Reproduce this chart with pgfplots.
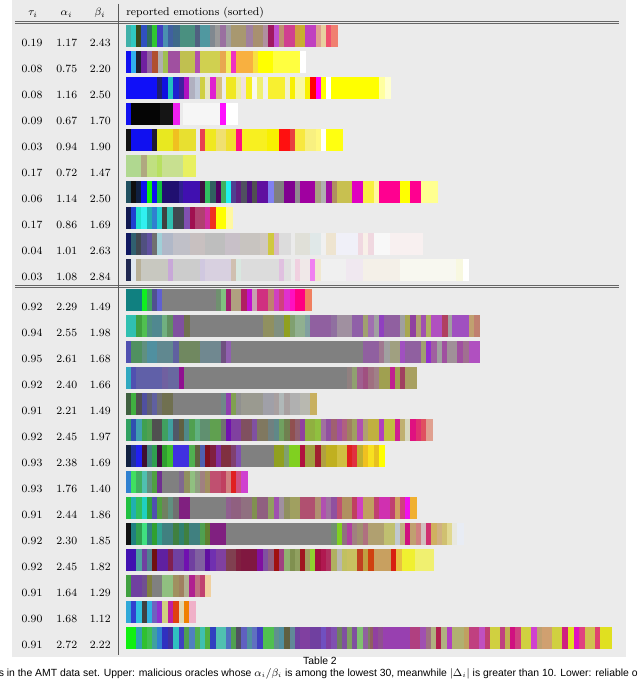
\documentclass[border=0pt]{standalone}
\usepackage{fontspec}
\usepackage{pgfplots}
\usepackage{pgfplotstable}
\pgfplotsset{compat=1.18}
\newfontfamily\capfont{Liberation Sans}
\pgfdeclareplotmark{nothing}{}

% r = row, a = start pixel, b = end pixel, c = colour
\pgfplotstableread{
r a b c
0 126 131.7 40B0A8
0 131.7 136.7 30C8C0
0 136.7 141.7 3A4A1A
0 141.7 147.3 3050C0
0 147.3 152.7 2E6E5E
0 152.7 157.7 30C830
0 157.7 163.3 4040C0
0 163.3 168.3 4A90B0
0 168.3 173.3 4060A0
0 173.3 180 3E6A8A
0 180 195 4A9080
0 195 200 506080
0 200 210 5098A0
0 210 215 808890
0 215 220 9A9A9A
0 220 226 9A70A0
0 226 231.7 A0A0A0
0 231.7 246.7 A89870
0 246.7 253.3 A080A0
0 253.3 263.3 A89070
0 263.3 268.3 B090A0
0 268.3 274 A01860
0 274 279.3 C050D0
0 279.3 284.3 C09070
0 284.3 295 D04090
0 295 300 D0A040
0 300 305 C8B030
0 305 316 C040C0
0 316 321 E0A090
0 321 326.7 E8D0A0
0 326.7 331.7 F05070
0 331.7 336.7 F08070
1 126 131.7 1010F0
1 131.7 136.7 30B0F0
1 136.7 141.7 202030
1 141.7 147.3 7020A0
1 147.3 152.7 9060A0
1 152.7 158.3 B05030
1 158.3 163.3 B0B0B0
1 163.3 168.3 A0C050
1 168.3 180 A050A0
1 180 195 C0C050
1 195 200 B050B0
1 200 220 D0D050
1 220 226.7 E8A850
1 226.7 231.7 F0F060
1 231.7 236.7 F030C0
1 236.7 253.3 F8B040
1 253.3 258.3 F8E040
1 258.3 273.3 FFFF00
1 273.3 300 FFFF40
1 300 305 FFFFFF
2 126 157.7 1010F8
2 157.7 162.7 202070
2 162.7 168.3 1010E0
2 168.3 173.3 20C0C0
2 173.3 179.3 2020D0
2 179.3 184.3 4020A0
2 184.3 189.3 B010C0
2 189.3 195 B0B0C0
2 195 200 C0C8D8
2 200 205 D0D040
2 205 210.7 E8E8C0
2 210.7 216 E020D0
2 216 221 D8C080
2 226.7 236.7 F0E820
2 236.7 241.7 F0F0A0
2 241.7 246.7 F0E0E0
2 246.7 252.7 F8F020
2 252.7 257.7 F8F8F0
2 257.7 263.3 F0F070
2 263.3 268.3 F0F0F0
2 268.3 285 F8F030
2 285 290 F0F0D0
2 290 295 F8F000
2 295 305 F8F8A0
2 305 310.7 F8F000
2 310.7 316 FF0000
2 316 321.7 FF00FF
2 321.7 326.7 FFFF00
2 326.7 331.7 FFFFFF
2 331.7 379.3 FFFF00
2 379.3 385 FFFFA0
2 385 390 FFFFD0
3 126 131.7 1010F0
3 131.7 160 050505
3 160 173.3 151515
3 173.3 179.3 F020F0
3 183.3 220 F6F6F6
3 220 226.7 FF10FF
3 226.7 236.7 FFFFFF
4 126 131.7 101010
4 131.7 152.7 1010F0
4 152.7 157.7 201830
4 157.7 173.3 E8E820
4 173.3 179.3 F0C020
4 179.3 195 E8E030
4 200 205 E84050
4 205 216.7 F0E820
4 216.7 226.7 F0E070
4 226.7 236.7 F0E030
4 236.7 242.3 FF1080
4 242.3 267.7 F8F020
4 267.7 279 F8F000
4 279 290 FF1010
4 290 295 E84040
4 295 305 F8E840
4 305 316.7 F8F080
4 316.7 321.7 FFF880
4 321.7 326.7 FFFFFF
4 326.7 341.7 FFFF10
5 126 141.7 B0D890
5 141.7 147.3 B0A880
5 147.3 157.3 C0E080
5 157.3 162.7 B8E060
5 162.7 183.3 C8E090
5 183.3 195 E8F060
6 126 131.7 205060
6 131.7 136.7 101010
6 136.7 141.7 102040
6 141.7 147.3 1010F0
6 147.3 152.3 10F010
6 152.3 157.7 1010F0
6 157.7 162.7 10C040
6 162.7 179.3 201070
6 179.3 183.3 302090
6 183.3 200 4010B0
6 200 205 401040
6 205 210.7 30C060
6 210.7 216 306060
6 216 221 500060
6 221 226.7 40B060
6 226.7 231.7 20F0F0
6 231.7 236.7 504090
6 236.7 241.7 602080
6 241.7 247.7 505060
6 247.7 252.7 501080
6 252.7 257.7 505050
6 257.7 268.3 6010A0
6 268.3 274 8080F0
6 274 284.3 808080
6 284.3 295 800090
6 295 300 908890
6 300 315.7 A000A0
6 315.7 321.7 A8A080
6 321.7 326.7 B0B0B0
6 326.7 332.3 A010A0
6 332.3 337.3 B09060
6 337.3 352.7 C8C050
6 352.7 363.3 E000C0
6 363.3 374 F8F040
6 374 379.3 FFF8A0
6 379.3 400 FF0090
6 400 410.7 FFFF00
6 410.7 421.7 FF0090
6 421.7 436.7 FFFF90
7 126 131.7 101850
7 131.7 136.7 2040D0
7 136.7 141.7 20E0D0
7 141.7 147.3 30F0F0
7 147.3 152.3 20B0B0
7 152.3 157.7 3080D0
7 157.7 162.7 20D0D0
7 162.7 167.7 404040
7 167.7 173.3 30C0B0
7 173.3 184.3 404850
7 184.3 190 8050B0
7 190 195 A01050
7 195 205 B04070
7 205 210.7 D030A0
7 210.7 216 F03020
7 216 226.7 FFFF00
7 226.7 231.7 FFF8A0
8 126 131.7 101860
8 131.7 136.7 306070
8 136.7 141.7 404850
8 141.7 147.3 505080
8 147.3 152.3 6050A0
8 152.3 157.7 707070
8 157.7 162.7 A0D0D8
8 162.7 173.3 B0B8C8
8 173.3 190 C0C0C8
8 190 205 C8C0C0
8 205 225 BEBEBE
8 225 240 C8C0C8
8 240 260 C8C4C0
8 260 268.3 D0C8C0
8 268.3 274 D0C840
8 274 279 D8B8C8
8 279 290 DCDCDC
8 295 310 E0E0D8
8 310 321.7 E0E8E8
8 321.7 326.7 F0F0F0
8 326.7 336.7 EEE4D0
8 336.7 358.3 F0F0F8
8 358.3 363.3 F0D8E0
8 363.3 368.3 F8F0E8
8 368.3 374 F0D8E0
8 374 390 F8F8F8
8 390 421.7 F8F0F0
9 126 131.7 202850
9 131.7 136.7 E0E8F0
9 136.7 141.7 B8B098
9 141.7 168.3 C8C8C0
9 168.3 173.3 C8A8D8
9 173.3 200 CCCCCC
9 200 205 D0C8E0
9 205 231.7 D8D0E0
9 231.7 236.7 D0C0B0
9 236.7 241.7 D8E8E0
9 241.7 279 DCDCDC
9 279 284.3 E0C0E0
9 284.3 290 E0E0E0
9 295 300 F0D0E0
9 300 310 F0E8E8
9 310 315.7 F080F0
9 315.7 321.7 F0E8D0
9 321.7 346.7 F0F0F0
9 346.7 363.3 F0E8F0
9 363.3 400 F4F0E8
9 400 456.7 F8F8F0
9 456.7 463.3 F8F8E0
9 463.3 468.3 FFFFFF
}\uppertab

\pgfplotstableread{
r a b c
0 126 142.7 108080
0 142.7 147.3 10F020
0 147.3 152.7 40A060
0 152.7 157.7 505090
0 157.7 162.7 6060D0
0 162.7 216 808080
0 216 221 709070
0 221 226.7 80C080
0 226.7 231.7 A02070
0 231.7 241.7 B0A080
0 241.7 247.3 B02060
0 247.3 252.7 C010D0
0 252.7 257.7 C8A0B0
0 257.7 268.3 D03080
0 268.3 274 C08070
0 274 279 D040C0
0 279 284.3 D04080
0 284.3 290 E030D0
0 290 295 FF10C0
0 295 305 FF0080
0 305 310.7 F08060
1 126 136.7 30C0B0
1 136.7 142.3 40A040
1 142.3 147.3 50C050
1 147.3 152.3 509080
1 152.3 162.7 508890
1 162.7 167.7 70B080
1 167.7 173.3 609060
1 173.3 184.3 8050A0
1 184.3 190 707050
1 190 263.3 808080
1 263.3 274 909060
1 274 284.3 809080
1 284.3 290 90A020
1 290 295 80A070
1 295 305 90B090
1 305 310 80A0A0
1 310 331.7 9060A0
1 331.7 337.3 9070A0
1 337.3 352.7 A090A0
1 352.7 363.3 9060A8
1 363.3 368.3 A0A070
1 368.3 374 A070B0
1 374 379.3 A0A0A0
1 379.3 384.3 9040C0
1 384.3 400 9060A0
1 400 405 A0A0A0
1 405 410.7 A8A850
1 410.7 416 9040A0
1 416 421 B0A070
1 421 426.7 A050B0
1 426.7 431.7 B0B060
1 431.7 442.7 B050C0
1 442.7 448.3 B04060
1 448.3 452.7 A0A0A0
1 452.7 469.3 A050C0
1 469.3 474.3 C0A070
1 474.3 479.3 C08070
2 126 131.7 5050B0
2 131.7 142.3 509060
2 142.3 147.3 609080
2 147.3 157.7 5090A0
2 157.7 173.3 608890
2 173.3 179.3 6060A0
2 179.3 200 708860
2 200 221 708890
2 221 226.7 705080
2 226.7 231.7 9060B0
2 231.7 363.3 808080
2 363.3 379.3 9060A0
2 379.3 384.3 A07890
2 384.3 390 A0A0A0
2 390 400 A0A080
2 400 405 A050C0
2 405 421.7 9060A0
2 421.7 426.7 A0A070
2 426.7 431.7 9030D0
2 431.7 437.3 A060A0
2 437.3 442.7 A0A0A0
2 442.7 447.7 A050A0
2 447.7 457.7 A09098
2 457.7 463.3 A050A0
2 463.3 469.3 A07090
2 469.3 479.3 B050C0
3 126 131.7 30A8C0
3 131.7 136.7 5050B0
3 136.7 162.7 6060A8
3 162.7 168.3 7060A0
3 168.3 179.3 6868A0
3 179.3 184.3 901090
3 184.3 347.7 808080
3 347.7 352.7 908080
3 352.7 357.7 90A070
3 357.7 363.3 A06090
3 363.3 368.3 A05080
3 368.3 374 A07080
3 374 379.3 A08088
3 379.3 390 A0A050
3 390 395 C02090
3 395 400 A0A050
3 400 405 A04060
3 405 416 A8A060
4 126 131.7 406040
4 131.7 136.7 40B040
4 136.7 142.3 505050
4 142.3 147.3 5050A0
4 147.3 152.3 606070
4 152.3 157.7 6060A0
4 157.7 162.7 707070
4 162.7 173.3 707050
4 173.3 221 808080
4 221 226.7 708888
4 226.7 231.7 9040B0
4 231.7 236.7 80A050
4 236.7 241.7 909090
4 241.7 263.3 9A9A90
4 263.3 274 A0A0A8
4 274 279 A8A0A0
4 279 284.3 B0B8B8
4 284.3 290 A8A0A0
4 290 300 B0B0B0
4 300 310 B8B8B0
4 310 315.7 C8B060
5 126 131.7 30A060
5 131.7 136.7 3050B0
5 136.7 142.3 40A0B0
5 142.3 147.3 40A050
5 147.3 152.3 50A050
5 152.3 162.7 505050
5 162.7 168.3 40A060
5 168.3 173.3 40A0A0
5 173.3 179.3 505868
5 179.3 184.3 606040
5 184.3 189.3 508888
5 189.3 195 50A050
5 195 200 60B080
5 200 210.7 609070
5 210.7 221 60A050
5 221 226.7 707070
5 226.7 231.7 7010B0
5 231.7 241.7 8040A0
5 241.7 252.7 805060
5 252.7 257.7 8050A0
5 257.7 268.3 807860
5 268.3 274 708080
5 274 279 608888
5 279 284.3 70A060
5 284.3 290 708050
5 290 295 905050
5 295 300 906070
5 300 305 9040A0
5 305 315.7 90B040
5 315.7 321 90C040
5 321 326.7 A070A0
5 326.7 331.7 9050A0
5 331.7 337.3 A06070
5 337.3 342.3 A050A0
5 342.3 347.7 B06080
5 347.7 352.7 A08060
5 352.7 357.7 A0A060
5 357.7 363.3 B050B0
5 363.3 368.3 B0A070
5 368.3 379.3 C0B040
5 379.3 384.3 B040C0
5 384.3 395 C0C040
5 395 400 D02090
5 400 405 C0B070
5 405 410.7 D8D8C0
5 410.7 416 E01080
5 416 421 E03070
5 421 426.7 E05060
5 426.7 431.7 E0A090
6 126 131.7 102040
6 131.7 136.7 2030A0
6 136.7 142.3 2020F0
6 142.3 147.3 401030
6 147.3 152.3 408080
6 152.3 157.7 30A050
6 157.7 162.7 401040
6 162.7 167.7 30A030
6 167.7 173.3 40C030
6 173.3 189.3 4030E0
6 189.3 195 50B050
6 195 200 606040
6 200 205 5060B0
6 205 210.7 801020
6 210.7 216 802040
6 216 221 8030A0
6 221 231.7 803040
6 231.7 236.7 804070
6 236.7 241.7 8050B0
6 241.7 274 808080
6 274 284.3 90A020
6 284.3 289.3 80A070
6 289.3 300 80D020
6 300 305 B01040
6 305 315.7 A0A040
6 315.7 321 A02030
6 321 326.7 B0A040
6 326.7 337.3 C0B020
6 337.3 347.7 D0C040
6 347.7 352.7 E02020
6 352.7 357.7 E03040
6 357.7 363.3 C0B030
6 363.3 368.3 F0C020
6 368.3 374 F8E020
6 374 379.3 E8C020
6 379.3 384.3 FFFF00
7 126 131.7 3080D0
7 131.7 136.7 40E060
7 136.7 142.3 40B060
7 142.3 147.3 50C0B0
7 147.3 152.3 609080
7 152.3 157.7 50A040
7 157.7 162.7 703090
7 162.7 179.3 808080
7 179.3 184.3 806890
7 184.3 190 909060
7 190 195 90C080
7 195 200 90A080
7 200 205 A08080
7 205 210 A09060
7 210 221 C05070
7 221 226.7 C04060
7 226.7 231.7 D08080
7 231.7 236.7 E02020
7 236.7 241.7 D05080
7 241.7 247.3 D040D0
8 126 131.7 20C040
8 131.7 136.7 20B0B0
8 136.7 142.3 30C060
8 142.3 147.3 20D0C0
8 147.3 152.3 30A040
8 152.3 157.7 5050B0
8 157.7 162.7 50A040
8 162.7 168.3 708060
8 168.3 173.3 609080
8 173.3 179.3 707070
8 179.3 190 802080
8 190 226.7 808080
8 226.7 231.7 906090
8 231.7 241.7 906080
8 241.7 252.7 907080
8 252.7 257.7 809050
8 257.7 268.3 906080
8 268.3 274 90A060
8 274 279 A050B0
8 279 284.3 A090A0
8 284.3 290 909060
8 290 300 A0A060
8 300 315.7 B05070
8 315.7 321 B09070
8 321 326.7 B050B0
8 326.7 331.7 A070A0
8 331.7 337.3 9050A0
8 337.3 342.3 C05070
8 342.3 352.7 B09060
8 352.7 357.7 C04060
8 357.7 363.3 D040C0
8 363.3 374 C0A060
8 374 379.3 C04070
8 379.3 390 D030B0
8 390 395 C04070
8 395 400 D0A060
8 400 405 D04080
8 405 410.7 F010F0
8 410.7 416 F0B030
9 126 131.7 101010
9 131.7 136.7 208080
9 136.7 142.3 30A050
9 142.3 147.3 40E080
9 147.3 152.3 308080
9 152.3 157.7 30A030
9 157.7 162.7 30A090
9 162.7 173.3 408080
9 173.3 179.3 408040
9 179.3 184.3 308070
9 184.3 189.3 408040
9 189.3 200 408080
9 200 205 50A050
9 205 210.7 608030
9 210.7 226.7 802080
9 226.7 331.7 808080
9 331.7 337.3 709070
9 337.3 342.3 80D020
9 342.3 347.7 907080
9 347.7 352.7 B040A0
9 352.7 357.7 A08080
9 357.7 363.3 A09070
9 363.3 368.3 B07080
9 368.3 384.3 B0A070
9 384.3 395 C0C070
9 395 400 C0C8D0
9 400 405 C0B080
9 405 410.7 D01080
9 410.7 416 C0A070
9 416 421 D08080
9 421 426.7 D0C0C0
9 426.7 431.7 D03070
9 431.7 437.3 D0B060
9 437.3 442.7 D0B080
9 442.7 447.7 D0C070
9 447.7 452.7 E0D890
9 452.7 457.7 E8E8E0
9 457.7 463.3 E8ECF4
10 126 136.7 4010B0
10 136.7 142.3 50A0A0
10 142.3 147.3 7040A0
10 147.3 152.3 508090
10 152.3 157.7 701010
10 157.7 168.3 6020A0
10 168.3 173.3 802050
10 173.3 184.3 7040A0
10 184.3 189.3 7010B0
10 189.3 195 7040A0
10 195 205 8060A0
10 205 210.7 6010A0
10 210.7 216 7030B0
10 216 226.7 8040A0
10 226.7 236.7 804050
10 236.7 241.7 802040
10 241.7 257.7 801840
10 257.7 263.3 8010A0
10 263.3 268.3 8050A0
10 268.3 274 906080
10 274 279 A01010
10 279 284.3 A04080
10 284.3 290 90B070
10 290 295 809050
10 295 300 90A060
10 300 305 A01820
10 305 310 A0A060
10 310 315.7 90D030
10 315.7 321 A01040
10 321 326.7 B01850
10 326.7 331.7 B03060
10 331.7 337.3 B0B060
10 337.3 342.3 B8B8B0
10 342.3 347.7 C0C060
10 347.7 357.7 C8C060
10 357.7 363.3 C04020
10 363.3 368.3 C0A040
10 368.3 374 D04010
10 374 391 C8A060
10 391 396.7 D82010
10 396.7 402 E8C040
10 402 415 F0F030
10 415 433 F0F070
11 126 131.7 40A040
11 131.7 142.3 7040A0
11 142.3 147.3 705090
11 147.3 152.3 808040
11 152.3 162.7 808080
11 162.7 173.3 90C080
11 173.3 179.3 A09060
11 179.3 184.3 A08060
11 184.3 189.3 B0B090
11 189.3 195 B02090
11 195 200 C07080
11 200 205 C04070
11 205 210 F0D0A0
12 126 131.7 30A8D8
12 131.7 136.7 3040D0
12 136.7 142.3 30C0E0
12 142.3 147.3 404040
12 147.3 152.3 30B0E0
12 152.3 157.7 7060C0
12 157.7 162.7 9030D0
12 162.7 168.3 D0D080
12 168.3 173.3 C020A0
12 173.3 179.3 E04010
12 179.3 184.3 E0D8B0
12 184.3 189.3 F08000
12 189.3 195 F0B0C8
13 126 136.7 10F010
13 136.7 142.3 30A0B0
13 142.3 147.3 30C030
13 147.3 152.3 40C050
13 152.3 157.7 40A0A0
13 157.7 162.7 3080D0
13 162.7 168.3 3030C0
13 168.3 173.3 4030A0
13 173.3 179.3 30C0C0
13 179.3 184.3 4040C0
13 184.3 189.3 50A050
13 189.3 195 5080C0
13 195 200 50B050
13 200 205 40C0B0
13 205 210.7 50B040
13 210.7 216 3040C0
13 216 226.7 50C0B0
13 226.7 231.7 5070C0
13 231.7 236.7 50A050
13 236.7 241.7 505060
13 241.7 247.3 6060C0
13 247.3 252.7 5090A0
13 252.7 257.7 6070C0
13 257.7 263.3 4040C0
13 263.3 274 50C050
13 274 279 609090
13 279 284.3 5090A0
13 284.3 290 606040
13 290 295 608898
13 295 300 7040A0
13 300 310 8040A0
13 310 321 7040A0
13 321 326.7 7050C0
13 326.7 331.7 8040A0
13 331.7 337.3 8050B0
13 337.3 342.3 708060
13 342.3 347.7 8050A0
13 347.7 352.7 80A060
13 352.7 357.7 8050A0
13 357.7 363.3 80C070
13 363.3 368.3 9060A0
13 368.3 370 808060
13 370 373.3 906060
13 373.3 378.3 9040A0
13 378.3 383.3 905090
13 383.3 410 9840B0
13 410 420 B04080
13 420 426.7 A050B0
13 426.7 431.7 A07080
13 431.7 436.7 B0B080
13 436.7 441.7 B02050
13 441.7 447.3 B0B080
13 447.3 452.7 B040C0
13 452.7 464 B0B070
13 464 469 C0A060
13 469 479 C04080
13 479 485 C050C0
13 485 490 C04070
13 490 500 D0D040
13 500 505 C04080
13 505 510.7 C0B050
13 510.7 515.7 D01080
13 515.7 521.7 D04080
13 521.7 531.7 D0D040
13 531.7 537.3 D040D0
13 537.3 542.3 C0A070
13 542.3 552.7 D0A070
13 552.7 562.7 D0D040
13 562.7 568.3 D02080
13 568.3 574 E0E020
13 574 579.3 E010C0
13 579.3 585 E04080
13 585 595 D0C050
13 595 600 E04070
13 600 610.7 E0E020
}\lowertab

\pgfplotsset{
  segstyle/.style={
    scatter, only marks, mark=nothing,
    point meta=explicit symbolic,
    visualization depends on={\thisrow{b}-\thisrow{a}+0.3 \as \segw},
    scatter/@pre marker code/.code={%
      \edef\tmpdef{\noexpand\definecolor{segcol}{HTML}{\pgfplotspointmeta}}\tmpdef
      \fill[segcol] (axis direction cs:-0.15,-10.5) rectangle (axis direction cs:\segw,10.5);
    },
    scatter/@post marker code/.code={},
  }
}

\begin{document}
\begin{tikzpicture}
\useasboundingbox (0,0) rectangle (480pt,509.25pt);
\clip (0,0) rectangle (480pt,509.25pt);
\begin{scope}[x=0.75pt,y=-0.75pt,yshift=509.25pt]
  \fill[white] (0,0) rectangle (640,679);
  \fill[black!8] (12,0) rectangle (626,657);
  \draw[black!60, line width=0.75pt] (15,21.6) -- (619,21.6);
  \draw[black!60, line width=0.75pt] (15,24.0) -- (619,24.0);
  \draw[black!60, line width=0.75pt] (15,285.2) -- (619,285.2);
  \draw[black!60, line width=0.75pt] (15,287.6) -- (619,287.6);
  \draw[black!65, line width=0.8pt] (118.3,4) -- (118.3,655);
\end{scope}
\begin{axis}[at={(0,0)}, anchor=south west, scale only axis,
  width=480pt, height=509.25pt, xmin=0, xmax=640, ymin=0, ymax=679,
  y dir=reverse, hide axis, clip=false]
  \addplot[segstyle] table[x=a, y expr=35.3+26*\thisrow{r}, meta=c] {\uppertab};
  \addplot[segstyle] table[x=a, y expr=299.7+26*\thisrow{r}, meta=c] {\lowertab};
\end{axis}
\begin{scope}[x=0.75pt,y=-0.75pt,yshift=509.25pt, font=\fontsize{8.3}{9.8}\selectfont]
  \node[anchor=base] at (33,16) {$\tau_i$};
  \node[anchor=base] at (66.5,16) {$\alpha_i$};
  \node[anchor=base] at (100,16) {$\beta_i$};
  \node[anchor=base west, inner sep=0pt] at (126,16) {reported emotions (sorted)};
  \foreach \vt/\va/\vb [count=\i from 0] in {0.19/1.17/2.43, 0.08/0.75/2.20, 0.08/1.16/2.50, 0.09/0.67/1.70, 0.03/0.94/1.90, 0.17/0.72/1.47, 0.06/1.14/2.50, 0.17/0.86/1.69, 0.04/1.01/2.63, 0.03/1.08/2.84} {
    \node[inner sep=0pt] at (32,{42.7+26*\i}) {\vt};
    \node[inner sep=0pt] at (66.7,{42.7+26*\i}) {\va};
    \node[inner sep=0pt] at (100.3,{42.7+26*\i}) {\vb};
  }
  \foreach \vt/\va/\vb [count=\i from 0] in {0.92/2.29/1.49, 0.94/2.55/1.98, 0.95/2.61/1.68, 0.92/2.40/1.66, 0.91/2.21/1.49, 0.92/2.45/1.97, 0.93/2.38/1.69, 0.93/1.76/1.40, 0.91/2.44/1.86, 0.92/2.30/1.85, 0.92/2.45/1.82, 0.91/1.64/1.29, 0.90/1.68/1.12, 0.91/2.72/2.22} {
    \node[inner sep=0pt] at (32,{306.6+26*\i}) {\vt};
    \node[inner sep=0pt] at (66.7,{306.6+26*\i}) {\va};
    \node[inner sep=0pt] at (100.3,{306.6+26*\i}) {\vb};
  }
  \node[anchor=base, inner sep=0pt, font=\capfont\fontsize{7.8}{9}\selectfont] at (320,665) {Table 2};
  \node[anchor=base west, inner sep=0pt, font=\capfont\fontsize{7.8}{9}\selectfont] at (-1.5,676.5) {s in the AMT data set. Upper: malicious oracles whose $\alpha_i/\beta_i$ is among the lowest 30, meanwhile $|\Delta_i|$ is greater than 10. Lower: reliable o};
\end{scope}
\end{tikzpicture}
\end{document}
